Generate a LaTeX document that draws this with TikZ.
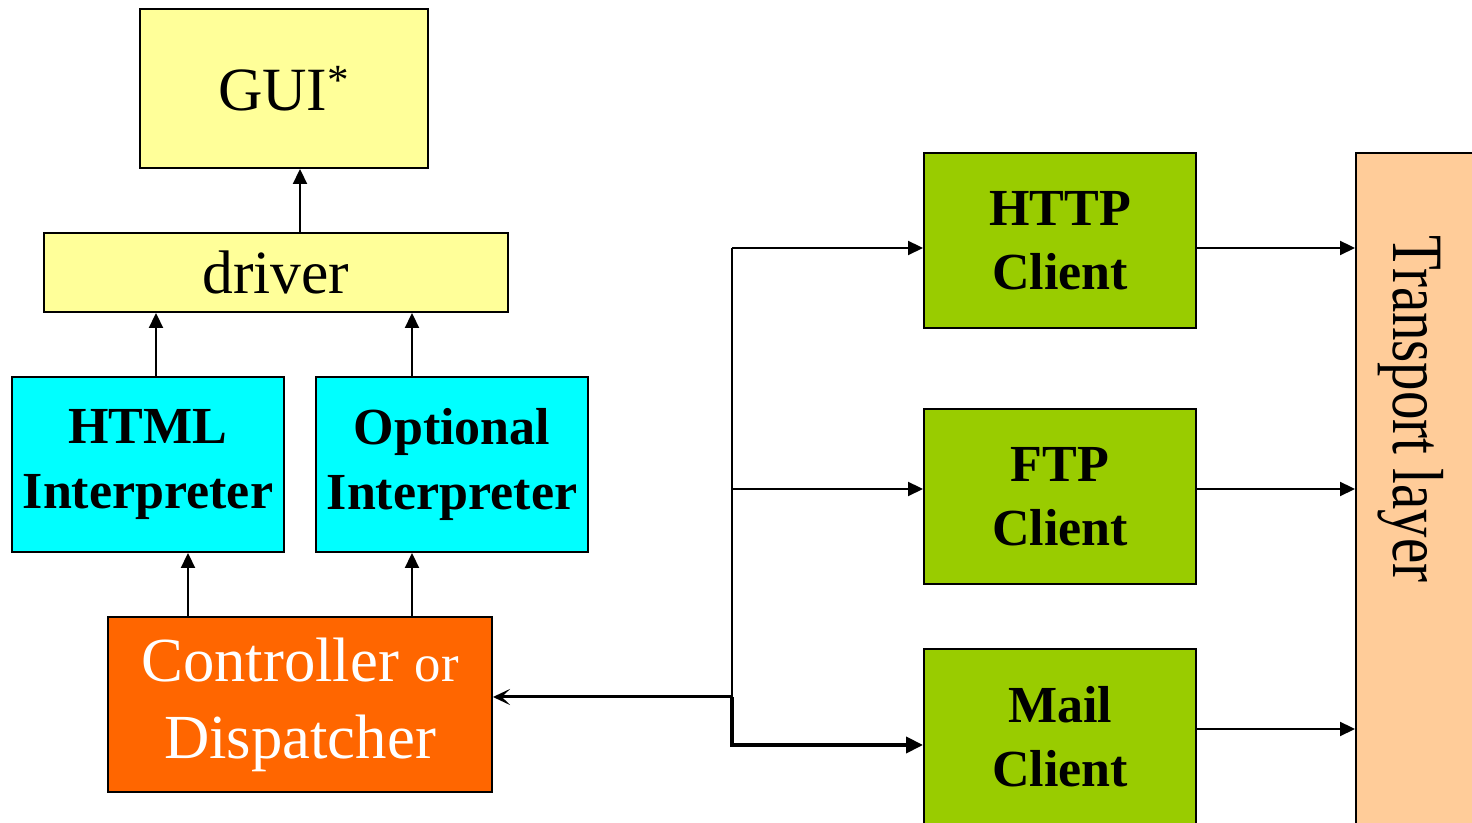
\documentclass[tikz,border=0pt]{standalone}
\usepackage{fontspec}
\setmainfont{Liberation Serif}
\usetikzlibrary{arrows.meta}

\definecolor{guiyellow}{HTML}{FFFF99}
\definecolor{interpcyan}{HTML}{00FFFF}
\definecolor{ctrlorange}{HTML}{FF6600}
\definecolor{clientgreen}{HTML}{99CC00}
\definecolor{transpeach}{HTML}{FFCC99}

\begin{document}
\begin{tikzpicture}[
        box/.style={draw, line width=1.1pt, inner sep=0pt, align=center},
        interp/.style={box, fill=interpcyan, minimum width=5.44cm, minimum height=3.5cm,
            font=\fontsize{29.6}{37}\selectfont\bfseries},
        client/.style={box, fill=clientgreen, minimum width=5.44cm, minimum height=3.5cm,
            font=\fontsize{29.6}{36.4}\selectfont\bfseries},
        arr/.style={line width=1.1pt, -{Triangle[length=0.3cm, width=0.28cm]}},
        thickarr/.style={line width=2.2pt, line join=miter, -{Triangle[length=0.34cm, width=0.32cm]}}
    ]
    \useasboundingbox (0,0) rectangle (29.44,16.46);

        % Browser side
        \node[box, fill=guiyellow, minimum width=5.76cm, minimum height=3.18cm,
            font=\fontsize{35}{42}\selectfont] (gui) at (5.68,14.69) {GUI\textsuperscript{*}};
        \node[box, fill=guiyellow, minimum width=9.28cm, minimum height=1.58cm,
            font=\fontsize{35}{42}\selectfont] (driver) at (5.52,11.01) {driver};
        \node[interp] (html) at (2.96,7.17) {HTML\\Interpreter};
        \node[interp] (opt) at (9.04,7.17) {Optional\\Interpreter};
        \node[box, fill=ctrlorange, text=white, minimum width=7.68cm, minimum height=3.5cm,
            font=\fontsize{35.7}{43.8}\selectfont] (ctrl) at (6.0,2.37)
            {Controller {\fontsize{30}{36}\selectfont or}\\Dispatcher};

        % Clients and transport
        \node[client] (http) at (21.2,11.65) {HTTP\\Client};
        \node[client] (ftp) at (21.2,6.53) {FTP\\Client};
        \node[client] (mail) at (21.2,1.73) {Mail\\Client};
        \node[box, fill=transpeach, minimum width=2.88cm, minimum height=14.34cm] (trans) at (28.56,6.23) {};
        \node[rotate=-90, anchor=base, font=\fontsize{32.4}{38}\selectfont] (translabel) at (27.86,8.28)
            {\scalebox{1}[1.27]{Transport layer}};

        % Bus
        \coordinate (b1) at (14.64,11.5);
        \coordinate (b2) at (14.64,6.68);
        \coordinate (b3) at (14.64,2.52);
        \coordinate (b4) at (14.64,1.56);
        \coordinate (m1) at (mail.east |- 0,1.88);

        % Arrows
        \draw[arr] (6,0 |- driver.north) -- (6,0 |- gui.south);
        \draw[arr] (3.12,0 |- html.north) -- (3.12,0 |- driver.south);
        \draw[arr] (8.24,0 |- opt.north) -- (8.24,0 |- driver.south);
        \draw[arr] (3.76,0 |- ctrl.north) -- (3.76,0 |- html.south);
        \draw[arr] (8.24,0 |- ctrl.north) -- (8.24,0 |- opt.south);

        \draw[line width=1.1pt] (b1) -- (b3);
        \draw[arr] (b1) -- (b1 -| http.west);
        \draw[arr] (b2) -- (b2 -| ftp.west);
        \draw[thickarr] (b3) -- (b4) -- (b4 -| mail.west);
        \draw[line width=1.7pt, -{Stealth[length=0.34cm, width=0.32cm, inset=0.16cm]}] (b3) -- (b3 -| ctrl.east);

        \draw[arr] (http.east |- b1) -- (b1 -| trans.west);
        \draw[arr] (ftp.east |- b2) -- (b2 -| trans.west);
        \draw[arr] (m1) -- (m1 -| trans.west);

\end{tikzpicture}
\end{document}
